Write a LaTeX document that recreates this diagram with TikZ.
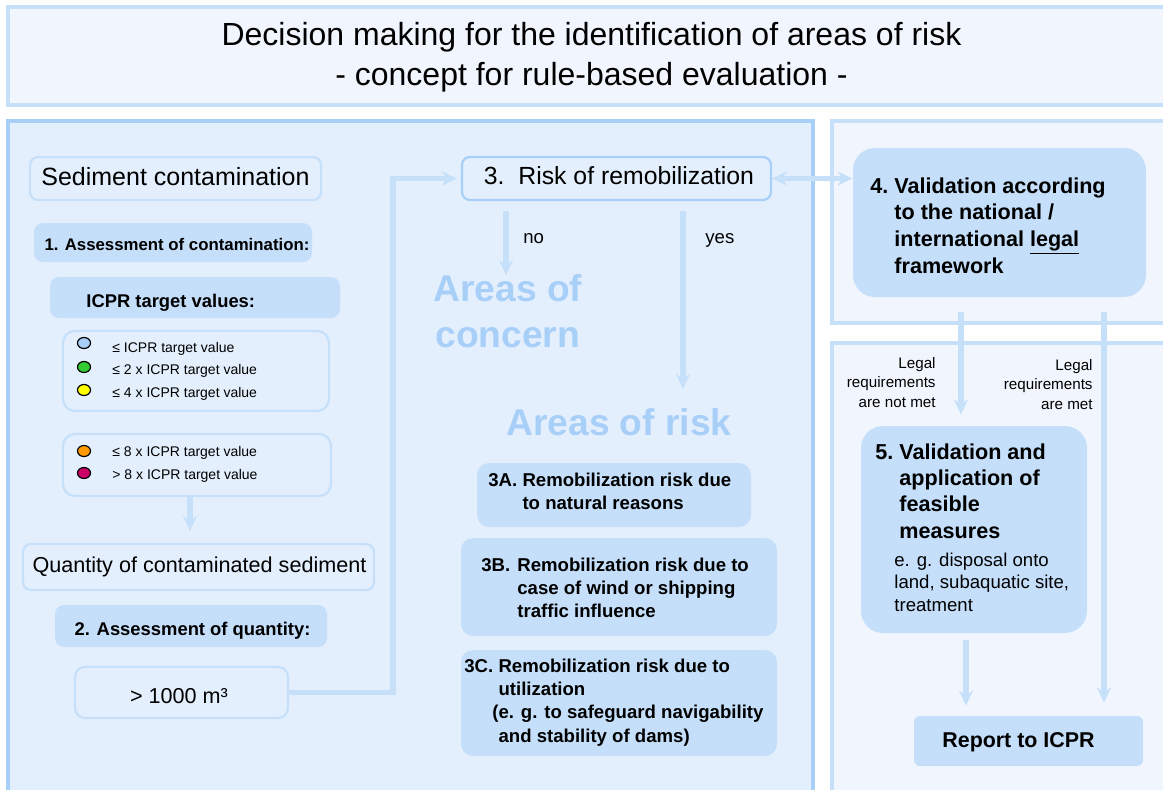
\documentclass[tikz,border=0pt]{standalone}
\usepackage{fontspec}
\setmainfont{Liberation Sans}
\usetikzlibrary{arrows.meta,shapes.geometric}
\definecolor{pborder}{HTML}{A8CFF8}
\definecolor{lborder}{HTML}{C6E0FA}
\definecolor{boxfill}{HTML}{C5DFFA}
\definecolor{leftfill}{HTML}{E3EFFD}
\definecolor{rightfill}{HTML}{F1F6FE}
\definecolor{areatxt}{HTML}{A8CFF8}
\definecolor{dotblue}{HTML}{A8D0F8}
\definecolor{dotgreen}{HTML}{33CC33}
\definecolor{dotyellow}{HTML}{FFFF00}
\definecolor{dotorange}{HTML}{FF9900}
\definecolor{dotred}{HTML}{CC0066}
\newcommand{\fsz}[2]{\fontsize{#1}{#2}\selectfont}
\tikzset{
  panelL/.style={draw=pborder, line width=2pt, fill=leftfill, inner sep=0},
  panelR/.style={draw=lborder, line width=2pt, fill=rightfill, inner sep=0},
  obox/.style={draw=lborder, line width=1.1pt, fill=leftfill, rounded corners=4pt, inner sep=0},
  rbox/.style={draw=pborder, line width=1.1pt, fill=leftfill, rounded corners=4pt, inner sep=0},
  fbox/.style={fill=boxfill, rounded corners=4.5pt, inner sep=0},
  bigbox/.style={fill=boxfill, rounded corners=11pt, inner sep=0},
  tip/.tip={Stealth[length=7.5pt,width=7pt,inset=2.5pt]},
  arr/.style={draw=lborder, line width=2.6pt, -tip},
  dblarr/.style={draw=lborder, line width=2.6pt, tip-tip},
  dot/.style={ellipse, draw=black, line width=0.6pt, minimum width=6.5pt, minimum height=5.5pt, inner sep=0},
  txt/.style={inner sep=0, text=black},
}
\begin{document}
\begin{tikzpicture}[x=0.5pt,y=-0.5pt]
\useasboundingbox (0,0) rectangle (1163,789);
\fill[white] (0,0) rectangle (1163,789);

% panels
\node[panelR, minimum width=591pt, minimum height=49pt] (titlebox) at (599,56) {};
\node[panelL, minimum width=402.5pt, minimum height=349.5pt] (leftpanel) at (410.5,470.5) {};
\node[panelR, minimum width=179pt, minimum height=101pt] (rtpanel) at (1011,222) {};
\node[panelR, minimum width=179pt, minimum height=238.5pt] (rbpanel) at (1011,581.5) {};

% title
\node[txt, anchor=base] (title) at (591.5,45) {\fsz{16}{20}\begin{tabular}[t]{@{}c@{}}Decision making for the identification of areas of risk\\- concept for rule-based evaluation -\end{tabular}};

% left column boxes
\node[obox, minimum width=145.5pt, minimum height=21.5pt] (sed) at (175.5,178.5) {};
\node[txt, anchor=base] (sedt) at (175.5,185) {\fsz{12.5}{15}Sediment contamination};

\node[fbox, minimum width=139pt, minimum height=19.5pt] (ass1) at (173,242.5) {};
\node[txt, anchor=base] (ass1t) at (177,250) {\fsz{8.4}{10}\bfseries 1. Assessment of contamination:};

\node[fbox, minimum width=145pt, minimum height=20.5pt] (icpr) at (195,297.5) {};
\node[txt, anchor=base west] (icprt) at (86,307) {\fsz{9.2}{11}\bfseries ICPR target values:};

\node[obox, rounded corners=6pt, minimum width=133pt, minimum height=40pt] (leg1) at (196,371) {};
\node[obox, rounded corners=6pt, minimum width=134pt, minimum height=31pt] (leg2) at (197,465) {};

\node[dot, fill=dotblue] (c1) at (84,343) {};
\node[dot, fill=dotgreen] (c2) at (84,367) {};
\node[dot, fill=dotyellow] (c3) at (84,390) {};
\node[dot, fill=dotorange] (c4) at (84,451) {};
\node[dot, fill=dotred] (c5) at (84,473) {};
\node[txt, anchor=base west] (l1) at (112,352) {\fsz{7}{9}≤ ICPR target value};
\node[txt, anchor=base west] (l2) at (112,374) {\fsz{7}{9}≤ 2 x ICPR target value};
\node[txt, anchor=base west] (l3) at (112,397) {\fsz{7}{9}≤ 4 x ICPR target value};
\node[txt, anchor=base west] (l4) at (112,456) {\fsz{7}{9}≤ 8 x ICPR target value};
\node[txt, anchor=base west] (l5) at (112,479) {\fsz{7}{9}> 8 x ICPR target value};

\node[obox, minimum width=175.5pt, minimum height=23pt] (qty) at (198.5,567) {};
\node[txt, anchor=base] (qtyt) at (199.5,572) {\fsz{10.8}{13}Quantity of contaminated sediment};

\node[fbox, minimum width=136pt, minimum height=21pt] (ass2) at (191,626) {};
\node[txt, anchor=base] (ass2t) at (192.5,635) {\fsz{9.2}{11}\bfseries 2. Assessment of quantity:};

\node[obox, rounded corners=5pt, minimum width=106.5pt, minimum height=25.5pt] (q1000) at (181.5,692.5) {};
\node[txt, anchor=base] (q1000t) at (179,703) {\fsz{10.8}{13}> 1000 m³};

% middle column
\node[rbox, minimum width=154.5pt, minimum height=21.5pt] (risk) at (616.5,178.5) {};
\node[txt, anchor=base] (riskt) at (619,184) {\fsz{12.4}{15}3.\ \ Risk of remobilization};

\node[txt, anchor=base west] (not) at (523,243) {\fsz{9.3}{11}no};
\node[txt, anchor=base west] (yest) at (705,243) {\fsz{9.3}{11}yes};

\node[inner sep=0, anchor=base west, text=areatxt] (concern1) at (433,301) {\fsz{18.6}{23}\bfseries Areas of};
\node[inner sep=0, anchor=base west, text=areatxt] (concern2) at (435,347) {\fsz{18.6}{23}\bfseries concern};
\node[inner sep=0, anchor=base, text=areatxt] (arisk) at (619,435) {\fsz{18.6}{23}\bfseries Areas of risk};

\node[fbox, rounded corners=6pt, minimum width=137pt, minimum height=32pt] (b3a) at (614,495) {};
\node[txt, anchor=base west] (b3at) at (488,486) {\fsz{9.3}{11.7}\bfseries\begin{tabular}[t]{@{}l@{\hspace{2.6pt}}l@{}}3A.&Remobilization risk due\\&to natural reasons\end{tabular}};

\node[fbox, rounded corners=6pt, minimum width=158pt, minimum height=49pt] (b3b) at (619,587) {};
\node[txt, anchor=base west] (b3bt) at (481,571) {\fsz{9.3}{11.7}\bfseries\begin{tabular}[t]{@{}l@{\hspace{3.5pt}}l@{}}3B.&Remobilization risk due to\\&case of wind or shipping\\&traffic influence\end{tabular}};

\node[fbox, rounded corners=6pt, minimum width=158pt, minimum height=53pt] (b3c) at (619,703) {};
\node[txt, anchor=base west] (b3ct) at (464,672) {\fsz{9.3}{11.7}\bfseries\begin{tabular}[t]{@{}l@{\hspace{2.6pt}}l@{}}3C.&Remobilization risk due to\\&utilization\\&\llap{(}e. g. to safeguard navigability\\&and stability of dams)\end{tabular}};

% right column
\node[bigbox, minimum width=146.5pt, minimum height=74.5pt] (b4) at (999.5,222.5) {};
\node[txt, anchor=base west] (b4t) at (870,193) {\fsz{10.8}{13.3}\bfseries\begin{tabular}[t]{@{}l@{\hspace{3pt}}l@{}}4.&Validation according\\&to the national /\\&international \underline{legal}\\&framework\end{tabular}};

\node[bigbox, minimum width=113pt, minimum height=103.5pt] (b5) at (974,529.5) {};
\node[txt, anchor=base west] (b5t) at (875,459) {\fsz{10.8}{13.2}\bfseries\begin{tabular}[t]{@{}l@{\hspace{3pt}}l@{}}5.&Validation and\\&application of\\&feasible\\&measures\end{tabular}};
\node[txt, anchor=base west] (b5s) at (894,566) {\fsz{9.3}{11.3}\begin{tabular}[t]{@{}l@{}}e. g. disposal onto\\land, subaquatic site,\\treatment\end{tabular}};

\node[fbox, rounded corners=3pt, minimum width=114.5pt, minimum height=25pt] (rep) at (1028.5,741) {};
\node[txt, anchor=base] (rept) at (1018.5,747) {\fsz{10.7}{13}\bfseries Report to ICPR};

\node[txt, anchor=base east] (notmet) at (936,368) {\fsz{7.6}{9.8}\begin{tabular}[t]{@{}r@{}}Legal\\requirements\\are not met\end{tabular}};
\node[txt, anchor=base east] (met) at (1093,370) {\fsz{7.6}{9.8}\begin{tabular}[t]{@{}r@{}}Legal\\requirements\\are met\end{tabular}};

% connectors
\coordinate (vx) at (393,178.5);
\draw[arr, shorten >=2pt] (q1000.east) -| (vx) -- (risk.west);
\draw[arr, shorten >=6pt] ([xshift=-3.5pt]leg2.south) -- ([xshift=-4.25pt]qty.north);

\coordinate (no1) at (506,211);
\coordinate (no2) at (506,275);
\draw[arr] (no1) -- (no2);
\coordinate (yes1) at (683,211);
\coordinate (yes2) at (683,389);
\draw[arr] (yes1) -- (yes2);

\draw[dblarr] (risk.east) -- (risk.east -| b4.west);

\coordinate (nm1) at (961,312);
\draw[arr, shorten >=5.5pt] (nm1) -- (nm1 |- b5.north);
\coordinate (m1) at (1104,312);
\draw[arr, shorten >=6.5pt] (m1) -- (m1 |- rep.north);
\coordinate (r1) at (966,640);
\draw[arr, shorten >=5pt] (r1) -- (r1 |- rep.north);
\end{tikzpicture}
\end{document}
